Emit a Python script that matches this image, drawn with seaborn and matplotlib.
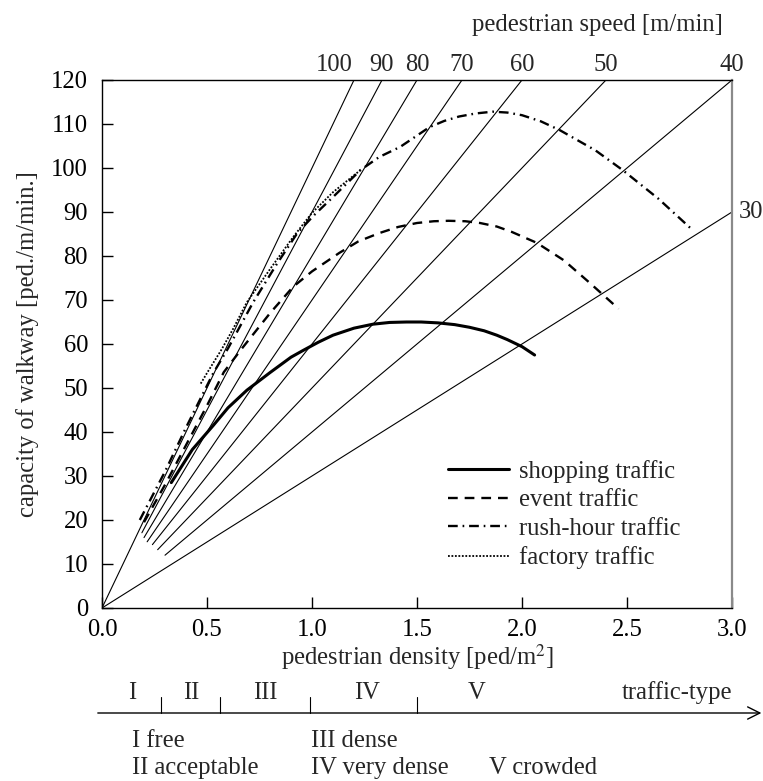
import numpy as np
import pandas as pd
import matplotlib
matplotlib.use("Agg")
import matplotlib.pyplot as plt
import matplotlib.transforms as mtransforms
from matplotlib.lines import Line2D
import seaborn as sns

# ---------------- data ----------------
speeds = [100, 90, 80, 70, 60, 50, 40, 30]            # m/min
speed_start_density = [0, 0.19, 0.2, 0.215, 0.24, 0.265, 0.3, 0]

shop_k = [0.33, 0.43, 0.53, 0.60, 0.69, 0.80, 0.90, 0.96, 1.03, 1.10, 1.20, 1.29, 1.37,
          1.45, 1.52, 1.60, 1.68, 1.75, 1.82, 1.88, 1.93, 2.00, 2.06]
shop_q = [28.5, 36.0, 41.5, 45.5, 49.5, 53.5, 57.0, 58.6, 60.4, 62.0, 63.6, 64.5, 64.9,
          65.0, 65.0, 64.8, 64.4, 63.8, 63.0, 62.0, 61.0, 59.4, 57.5]

event_k = [0.20, 0.30, 0.40, 0.50, 0.58, 0.66, 0.80, 0.91, 1.00, 1.13, 1.22, 1.32, 1.41,
           1.50, 1.58, 1.65, 1.73, 1.80, 1.88, 1.95, 2.07, 2.20, 2.32, 2.46]
event_q = [19.5, 28.0, 37.0, 46.0, 53.6, 58.6, 67.0, 73.0, 76.5, 80.7, 83.3, 85.2, 86.6,
           87.5, 87.9, 88.0, 87.9, 87.5, 86.7, 85.5, 83.0, 79.0, 74.0, 68.0]

rush_k = [0.18, 0.30, 0.40, 0.53, 0.60, 0.72, 0.83, 0.93, 1.01, 1.10, 1.23, 1.32, 1.42,
          1.56, 1.63, 1.70, 1.78, 1.86, 1.93, 2.00, 2.09, 2.18, 2.35, 2.48, 2.65, 2.81]
rush_q = [20.0, 31.0, 41.0, 53.4, 59.0, 69.5, 78.0, 85.2, 89.3, 93.4, 99.5, 102.5, 104.8,
          109.3, 110.7, 111.7, 112.4, 112.8, 112.6, 112.0, 110.6, 108.6, 104.0, 99.5, 93.0, 86.0]

fact_k = [0.47, 0.50, 0.57, 0.625, 0.69, 0.80, 0.91, 1.00, 1.10, 1.23]
fact_q = [51.0, 53.4, 58.8, 63.5, 69.5, 77.0, 84.3, 89.8, 94.5, 99.5]

curve_names = ["shopping traffic", "event traffic", "rush-hour traffic", "factory traffic"]

x_ticks = [0.0, 0.5, 1.0, 1.5, 2.0, 2.5, 3.0]
y_ticks = list(range(0, 121, 10))

traffic_bounds = [0.28, 0.56, 0.99, 1.50]
traffic_labels = ["I", "II", "III", "IV", "V"]
traffic_label_x = [0.143, 0.424, 0.776, 1.262, 1.786]
traffic_desc = [("I free", 0.143, 0), ("II acceptable", 0.143, 1),
                ("III dense", 0.995, 0), ("IV very dense", 0.995, 1),
                ("V crowded", 1.843, 1)]

# ---------------- style ----------------
sns.set_theme(style="white")
plt.rcParams["font.family"] = ["Liberation Serif", "DejaVu Serif"]
plt.rcParams["mathtext.fontset"] = "stix"
plt.rcParams["lines.scale_dashes"] = False
FS = 17.7

W, H = 763, 781
fig = plt.figure(figsize=(W / 100, H / 100), dpi=100)
L, R, T, B = 102, 732, 80, 608
ax = fig.add_axes([L / W, 1 - B / H, (R - L) / W, (B - T) / H])
ax.set_xlim(0, 3)
ax.set_ylim(0, 120)

# speed lines
for v, k0 in zip(speeds, speed_start_density):
    k1 = min(120 / v, 3.0)
    df = pd.DataFrame({"k": [k0, k1], "q": [v * k0, v * k1]})
    sns.lineplot(data=df, x="k", y="q", ax=ax, color="black", lw=0.8,
                 sort=False, estimator=None)

styles = [
    dict(lw=2.2, linestyle="-"),
    dict(lw=1.7, linestyle=(0, (7, 5))),
    dict(lw=1.7, linestyle=(0, (7, 3.5, 1.2, 3.5))),
    dict(lw=1.3, linestyle=(0, (1.3, 1.2))),
]
curves = [(shop_k, shop_q), (event_k, event_q), (rush_k, rush_q), (fact_k, fact_q)]
handles = []
for (kk, qq), st, name in zip(curves, styles, curve_names):
    df = pd.DataFrame({"k": kk, "q": qq})
    sns.lineplot(data=df, x="k", y="q", ax=ax, color="black", sort=False,
                 estimator=None, **st)
    handles.append(Line2D([], [], color="black", **st))

leg = ax.legend(handles, curve_names, loc="center left",
                bbox_to_anchor=(448 / W, 1 - 514.5 / H),
                bbox_transform=fig.transFigure, frameon=False, fontsize=FS,
                handlelength=2.5, handletextpad=0.4, labelspacing=0.26,
                borderpad=0, borderaxespad=0)

# axes styling
ax.set_xticks(x_ticks)
ax.set_xticklabels([f"{t:.1f}" for t in x_ticks])
ax.set_yticks(y_ticks)
ax.set_yticklabels([str(t) for t in y_ticks])
ax.tick_params(axis="both", direction="in", length=8, width=1, colors="black",
               labelsize=FS, pad=10)
ax.tick_params(axis="x", pad=8)
ax.tick_params(top=False, right=False, left=True, bottom=True)
for s in ["left", "bottom", "top"]:
    ax.spines[s].set_color("black")
    ax.spines[s].set_linewidth(1.0)
ax.spines["right"].set_color("#8a8a8a")
ax.spines["right"].set_linewidth(1.6)
ax.set_xlabel("pedestrian density [ped/m$^2$]", fontsize=FS, labelpad=1)
ax.set_ylabel("capacity of walkway [ped./m/min.]", fontsize=FS, labelpad=9)
ax.grid(False)

# speed labels on top
bt = mtransforms.blended_transform_factory(ax.transData, fig.transFigure)
for v in speeds[:-1]:
    kx = 120 / v
    if v == 100:
        ax.text(kx - 0.005, 1 - 65 / H, str(v), transform=bt, ha="right",
                va="center", fontsize=FS)
    else:
        ax.text(kx, 1 - 65 / H, str(v), transform=bt, ha="center",
                va="center", fontsize=FS)
ax.annotate(str(speeds[-1]), xy=(3.0, speeds[-1] * 3.0), xytext=(5, 0),
            textcoords="offset points", ha="left", va="center", fontsize=FS,
            annotation_clip=False)
ax.text(2.36, 1 - 25 / H, "pedestrian speed [m/min]", transform=bt,
        ha="center", va="center", fontsize=FS)

# traffic-type axis
ya = 1 - 713 / H
ax.annotate("", xy=(3.14, ya), xytext=(-0.02, ya), xycoords=bt, textcoords=bt,
            arrowprops=dict(arrowstyle="->", lw=1.0, color="black",
                            mutation_scale=22, shrinkA=0, shrinkB=0),
            annotation_clip=False)
for b in traffic_bounds:
    ax.add_line(Line2D([b, b], [ya, 1 - 697 / H], transform=bt, color="black",
                       lw=0.8, clip_on=False))
for lab, xl in zip(traffic_labels, traffic_label_x):
    ax.text(xl, 1 - 693 / H, lab, transform=bt, ha="center", va="center",
            fontsize=FS)
ax.text(3.0, 1 - 693 / H, "traffic-type", transform=bt, ha="right",
        va="center", fontsize=FS)
for txt, xl, row in traffic_desc:
    ax.text(xl, 1 - (741 + 27 * row) / H, txt, transform=bt, ha="left",
            va="center", fontsize=FS)

fig.savefig("out.png", dpi=100)
